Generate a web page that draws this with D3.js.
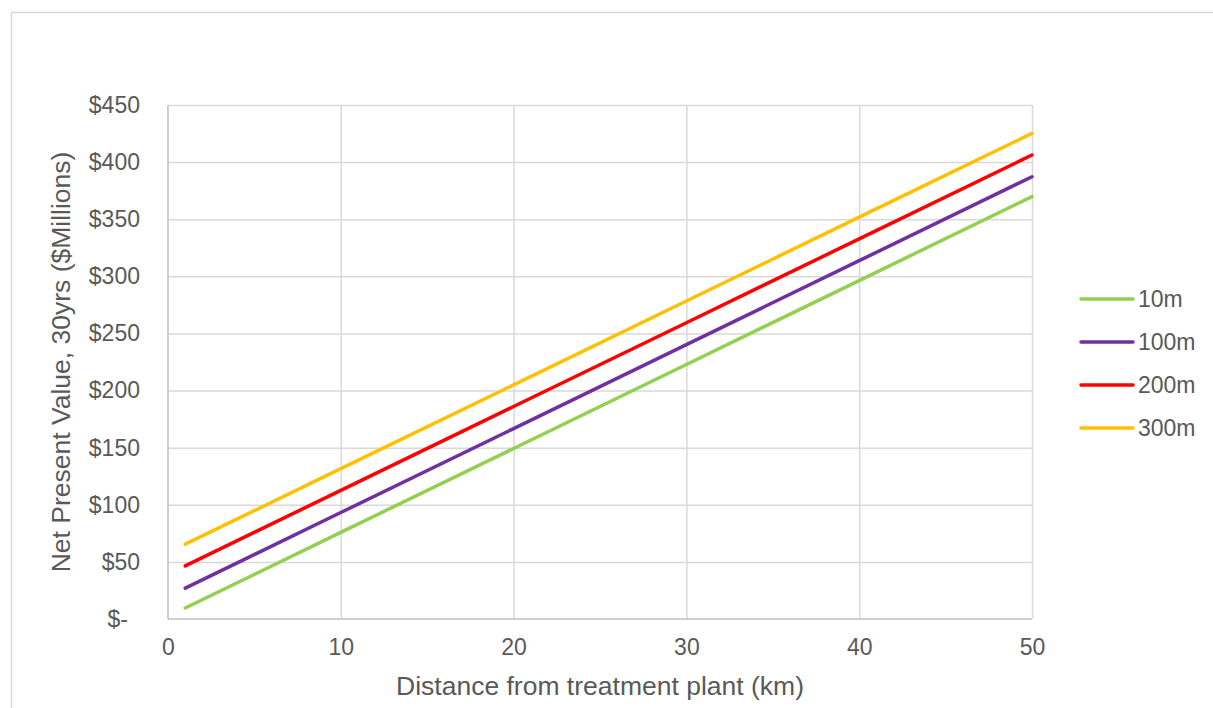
<!DOCTYPE html>
<html><head><meta charset="utf-8">
<script src="https://cdn.jsdelivr.net/npm/d3@7"></script>
<style>body{margin:0;background:#fff}svg{display:block;font-family:"Liberation Sans",Arial,sans-serif}</style>
</head><body><svg id="c" width="1213" height="708"></svg>
<script>
const xValues = [1, 10, 20, 30, 40, 50];
const seriesNames = ["10m", "100m", "200m", "300m"];
const s10m  = [9.6, 75.8, 149.3, 222.8, 296.3, 369.8];
const s100m = [27.0, 93.2, 166.7, 240.2, 313.7, 387.2];
const s200m = [46.5, 112.6, 186.0, 259.4, 332.8, 406.2];
const s300m = [65.5, 131.6, 205.0, 278.4, 351.8, 425.2];
const seriesColors = ["#92d050", "#7030a0", "#ff0000", "#ffc000"];
const xTicks = [0, 10, 20, 30, 40, 50];
const yTicks = [0, 50, 100, 150, 200, 250, 300, 350, 400, 450];
const xTitle = "Distance from treatment plant (km)";
const yTitle = "Net Present Value, 30yrs ($Millions)";

const series = [s10m, s100m, s200m, s300m];
const FONT = "Liberation Sans, Arial, sans-serif";
const svg = d3.select("#c");
svg.append("rect").attr("x", 11.5).attr("y", 12.5).attr("width", 1215).attr("height", 710)
  .attr("fill", "#fff").attr("stroke", "#d9d9d9").attr("stroke-width", 1.5);

const x = d3.scaleLinear().domain([0, 50]).range([168, 1032]);
const y = d3.scaleLinear().domain([0, 450]).range([619, 105]);

const g = svg.append("g");
// gridlines
g.append("g").attr("transform", "translate(168,0)")
  .call(d3.axisLeft(y).tickValues(yTicks.slice(1)).tickSize(-(1032 - 168)).tickFormat(""))
  .call(a => { a.select(".domain").remove(); a.selectAll("line").attr("stroke", "#d9d9d9").attr("stroke-width", 1.5); });
g.append("g").attr("transform", "translate(0,105)")
  .call(d3.axisBottom(x).tickValues(xTicks.slice(1)).tickSize(619 - 105).tickFormat(""))
  .call(a => { a.select(".domain").remove(); a.selectAll("line").attr("stroke", "#d9d9d9").attr("stroke-width", 1.5); });
// axis lines
g.append("line").attr("x1", 168).attr("x2", 1032).attr("y1", 619).attr("y2", 619).attr("stroke", "#bfbfbf").attr("stroke-width", 1.5);
g.append("line").attr("x1", 168).attr("x2", 168).attr("y1", 105).attr("y2", 619).attr("stroke", "#bfbfbf").attr("stroke-width", 1.5);

// tick labels
const yAx = g.append("g").attr("transform", "translate(168,0)")
  .call(d3.axisLeft(y).tickValues(yTicks).tickSize(0).tickPadding(28)
    .tickFormat(d => d === 0 ? "$-" : "$" + d));
yAx.select(".domain").remove();
yAx.selectAll("text").attr("font-size", 23).attr("fill", "#595959").attr("font-family", FONT)
  .attr("dx", d => d === 0 ? -12 : 0);

const xAx = g.append("g").attr("transform", "translate(0,619)")
  .call(d3.axisBottom(x).tickValues(xTicks).tickSize(0).tickPadding(20));
xAx.select(".domain").remove();
xAx.selectAll("text").attr("font-size", 23).attr("fill", "#595959").attr("font-family", FONT);

// titles
svg.append("text").attr("x", 600).attr("y", 695).attr("text-anchor", "middle")
  .attr("font-size", 26.5).attr("fill", "#595959").text(xTitle);
svg.append("text").attr("transform", "translate(70,362) rotate(-90)").attr("text-anchor", "middle")
  .attr("font-size", 26.5).attr("fill", "#595959").text(yTitle);

// lines
const line = d3.line().x((d, i) => x(xValues[i])).y(d => y(d));
series.forEach((s, k) => {
  svg.append("path").datum(s).attr("d", line).attr("fill", "none")
    .attr("stroke", seriesColors[k]).attr("stroke-width", 3.5).attr("stroke-linecap", "round");
});

// legend
const leg = svg.append("g");
seriesNames.forEach((n, k) => {
  const yy = 299 + k * 43;
  leg.append("line").attr("x1", 1081).attr("x2", 1133).attr("y1", yy).attr("y2", yy)
    .attr("stroke", seriesColors[k]).attr("stroke-width", 3.5).attr("stroke-linecap", "round");
  leg.append("text").attr("x", 1138).attr("y", yy + 8).attr("font-size", 23).attr("fill", "#595959").attr("font-family", FONT).text(n);
});
</script></body></html>
